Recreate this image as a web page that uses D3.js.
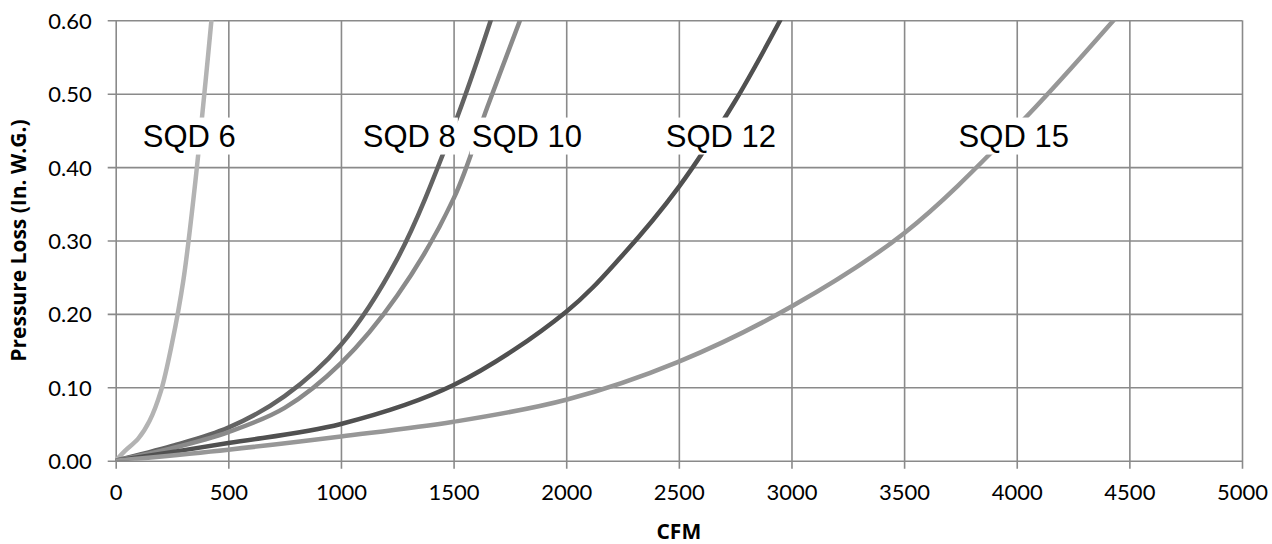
<!DOCTYPE html>
<html>
<head>
<meta charset="utf-8">
<script src="https://cdn.jsdelivr.net/npm/d3@7"></script>
<style>
    body { margin: 0; background: #fff; }
    .tick text { font-family: Lato, "Open Sans", sans-serif; font-size: 22px; fill: #000; }
    .axis-title { font-family: "Open Sans", Lato, sans-serif; font-weight: bold; font-size: 21px; fill: #000; }
    .curve-label { font-family: "Liberation Sans", Arial, sans-serif; font-size: 31px; fill: #000; }
</style>
</head>
<body>
<div id="chart"></div>
<script>
/* global d3 */

// series names and line colours
var seriesNames = ["SQD 6", "SQD 8", "SQD 10", "SQD 12", "SQD 15"];
var seriesColors = ["#b3b3b3", "#636363", "#8a8a8a", "#505050", "#979797"];

// [CFM, pressure loss]
var sqd6 = [[0, 0], [40, 0.013], [100, 0.03], [150, 0.054], [200, 0.094], [250, 0.16],
    [300, 0.245], [350, 0.37], [400, 0.52], [425, 0.60]];
var sqd8 = [[0, 0], [250, 0.02], [500, 0.045], [750, 0.088], [1000, 0.158], [1250, 0.275],
    [1500, 0.455], [1665, 0.60]];
var sqd10 = [[0, 0], [250, 0.017], [500, 0.039], [750, 0.072], [1000, 0.133], [1250, 0.225],
    [1500, 0.357], [1650, 0.482], [1795, 0.60]];
var sqd12 = [[0, 0], [500, 0.024], [1000, 0.050], [1500, 0.103], [2000, 0.203], [2250, 0.28],
    [2500, 0.373], [2750, 0.49], [2950, 0.60]];
var sqd15 = [[0, 0], [500, 0.015], [1000, 0.033], [1500, 0.053], [2000, 0.083], [2500, 0.135],
    [3000, 0.21], [3500, 0.31], [4000, 0.455], [4430, 0.60]];

// label anchors (left edge CFM, baseline pressure)
var labelCfm = [120, 1097, 1581, 2442, 3742];
var labelPressure = 0.428;

var xTicks = [0, 500, 1000, 1500, 2000, 2500, 3000, 3500, 4000, 4500, 5000];
var yTicks = [0, 0.1, 0.2, 0.3, 0.4, 0.5, 0.6];

var allSeries = [sqd6, sqd8, sqd10, sqd12, sqd15];

var margin = {top: 20.3, right: 30, bottom: 83.3, left: 115.7},
    width = 1272 - margin.left - margin.right,
    height = 544 - margin.top - margin.bottom;

var x = d3.scaleLinear().domain([0, 5000]).range([0, width]);
var y = d3.scaleLinear().domain([0, 0.6]).range([height, 0]);

var svg = d3.select("#chart")
        .append("svg")
        .attr("width", 1272)
        .attr("height", 544);

var canvas = svg.append("g")
        .attr("transform", "translate(" + margin.left + "," + margin.top + ")");

var gridColor = "#8a8a8a";

// grid + axes
var xAxis = canvas.append("g")
        .attr("transform", "translate(0," + height + ")")
        .call(d3.axisBottom(x).tickValues(xTicks).tickFormat(d3.format("d"))
                .tickSizeOuter(0).tickPadding(18));
xAxis.select(".domain").remove();
xAxis.selectAll(".tick line").attr("y2", -height).attr("y1", 8)
        .attr("stroke", gridColor).attr("stroke-width", 1.6);

var yAxis = canvas.append("g")
        .call(d3.axisLeft(y).tickValues(yTicks).tickFormat(d3.format(".2f")).tickSizeOuter(0).tickPadding(18));
yAxis.select(".domain").remove();
yAxis.selectAll(".tick line").attr("x1", -8).attr("x2", width)
        .attr("stroke", gridColor).attr("stroke-width", 1.6);
yAxis.selectAll(".tick text").attr("dy", "0.36em");
xAxis.selectAll(".tick text").attr("dy", "0.71em");

// curves
canvas.append("clipPath").attr("id", "plot-clip")
        .append("rect").attr("width", width).attr("height", height);

var line = d3.line()
        .x(function (d) { return x(d[0]); })
        .y(function (d) { return y(d[1]); })
        .curve(d3.curveCatmullRom.alpha(0.5));

canvas.append("g")
        .attr("clip-path", "url(#plot-clip)")
        .selectAll("path")
        .data(allSeries)
        .enter()
        .append("path")
        .attr("d", line)
        .attr("fill", "none")
        .attr("stroke", function (d, i) { return seriesColors[i]; })
        .attr("stroke-width", 4.5)
        .attr("stroke-linecap", "round");

// curve labels on white boxes
seriesNames.forEach(function (name, i) {
    var g = canvas.append("g");
    var bg = g.append("rect").attr("fill", "#fff");
    var txt = g.append("text")
            .attr("class", "curve-label")
            .attr("x", x(labelCfm[i]))
            .attr("y", y(labelPressure))
            .text(name);
    var bb = txt.node().getBBox();
    bg.attr("x", bb.x - 2).attr("y", bb.y - 1)
            .attr("width", bb.width + 4).attr("height", bb.height + 2);
});

// axis titles
svg.append("text")
        .attr("class", "axis-title")
        .attr("text-anchor", "middle")
        .attr("transform", "translate(26," + (margin.top + height / 2) + ") rotate(-90)")
        .text("Pressure Loss (In. W.G.)");

svg.append("text")
        .attr("class", "axis-title")
        .attr("text-anchor", "middle")
        .attr("x", margin.left + width / 2)
        .attr("y", 539)
        .text("CFM");
</script>
</body>
</html>
